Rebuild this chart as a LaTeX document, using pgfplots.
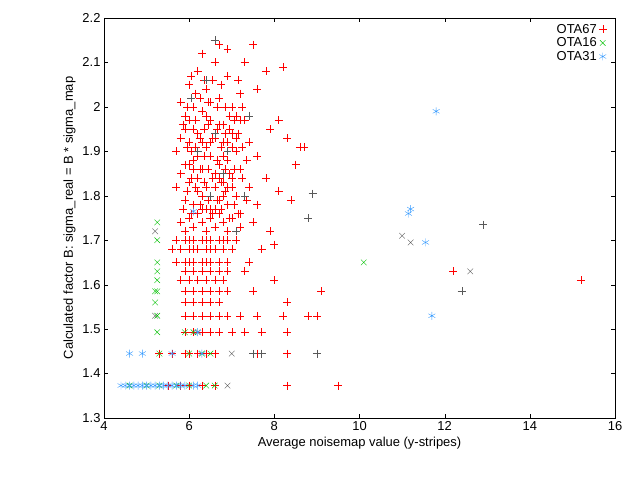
\documentclass[border=0pt]{standalone}
\usepackage{pgfplots}
\pgfplotsset{compat=1.18}
\usepackage{fontspec}
\setmainfont{Liberation Sans}
\definecolor{gblue}{RGB}{51,153,255}
\definecolor{ggreen}{RGB}{0,192,0}
\begin{document}
\begin{tikzpicture}[x=1bp,y=1bp]
\path[use as bounding box] (0,0) rectangle (640,480);
\begin{axis}[at={(104bp,62bp)},anchor=south west,scale only axis,width=511bp,height=400bp,
xmin=4,xmax=16,ymin=1.3,ymax=2.2,xtick={4,6,...,16},ytick={1.3,1.4,...,2.2},
yticklabel style={/pgf/number format/fixed,/pgf/number format/precision=1},
/pgf/number format/assume math mode=true,
tick align=inside,tick style={black},
ticklabel style={font=\fontsize{13}{15}\selectfont},
label style={font=\fontsize{13}{15}\selectfont},
xlabel={Average noisemap value (y-stripes)},
ylabel={Calculated factor B: sigma\_real = B * sigma\_map},
legend style={draw=none,fill=none,at={(0.99,0.995)},anchor=north east,font=\fontsize{13}{15}\selectfont,row sep=-1pt},
legend plot pos=right,legend cell align=right,
only marks,mark size=4pt]
\addplot[red,mark=+,forget plot] coordinates {
(5.8,2.01)(5.9,1.98)(6.0,2.05)(6.1,1.95)(6.2,2.08)(6.3,1.99)(6.4,2.04)(6.5,1.97)(6.6,2.1)(6.7,2.02)(6.8,1.96)(6.9,2.07)(7.0,2.0)(7.1,1.98)(7.2,2.03)(7.3,1.97)(7.5,2.14)(7.6,2.04)(6.3,2.12)(6.7,2.14)(6.9,2.13)(7.3,2.1)(7.8,2.08)(8.1,1.97)(8.2,2.09)
(5.7,1.9)(5.8,1.93)(5.9,1.87)(6.0,1.92)(6.1,1.88)(6.2,1.94)(6.3,1.86)(6.4,1.91)(6.5,1.89)(6.6,1.93)(6.7,1.87)(6.8,1.92)(6.9,1.88)(7.0,1.94)(7.1,1.9)(7.2,1.86)(7.4,1.92)(7.6,1.89)(7.9,1.95)(8.3,1.93)(8.6,1.91)(8.7,1.91)(8.5,1.87)
(5.7,1.82)(5.8,1.85)(5.9,1.79)(6.0,1.83)(6.1,1.78)(6.2,1.84)(6.3,1.8)(6.4,1.82)(6.5,1.77)(6.6,1.85)(6.7,1.79)(6.8,1.83)(6.9,1.78)(7.0,1.84)(7.1,1.8)(7.2,1.76)(7.4,1.82)(7.6,1.78)(7.8,1.84)(8.1,1.81)(8.4,1.79)
(5.8,1.74)(5.9,1.72)(6.0,1.75)(6.1,1.73)(6.2,1.76)(6.3,1.74)(6.4,1.72)(6.5,1.75)(6.6,1.73)(6.7,1.76)(6.8,1.74)(6.9,1.72)(7.0,1.75)(7.2,1.73)(7.5,1.74)(7.9,1.72)(8.0,1.69)
(5.95,2.0)(6.05,1.9)(6.15,1.82)(6.25,2.02)(6.35,1.89)(6.45,1.96)(6.55,1.84)(6.65,2.0)(6.75,1.91)(6.85,1.81)(6.95,1.95)(7.05,1.86)(6.15,1.97)(6.25,1.78)(6.45,1.86)(6.55,2.06)(6.75,1.83)(6.85,2.0)(7.15,1.94)(7.25,1.84)(6.05,1.76)(6.35,1.95)(6.65,1.79)(6.95,1.85)
(5.85,1.96)(5.95,1.81)(6.05,2.07)(6.15,1.91)(6.25,1.86)(6.35,2.06)(6.45,1.79)(6.55,1.93)(6.65,1.88)(6.75,2.05)(6.85,1.86)(6.95,1.98)(7.05,1.78)(7.15,2.06)(7.25,1.91)(7.35,1.88)(5.85,1.77)(5.95,1.91)(6.05,1.84)(6.15,2.03)(6.25,1.93)(6.35,1.83)(6.45,2.01)(6.55,1.76)(6.65,1.95)(6.75,1.77)(6.85,1.94)(6.95,1.75)(7.05,1.97)(7.15,1.76)(7.25,2.0)(7.35,1.79)
(5.9,1.95)(6.0,1.87)(6.1,2.0)(6.2,1.81)(6.3,1.92)(6.4,1.77)(6.5,2.01)(6.6,1.82)(6.7,1.96)(6.8,1.8)(6.9,1.92)(7.0,1.82)(7.1,1.93)(6.0,1.97)(6.2,1.89)(6.4,1.98)(6.6,1.77)(6.8,1.89)(7.0,1.91)(7.2,1.97)(6.1,1.86)(6.3,1.77)(6.5,1.92)(6.7,1.84)(6.9,1.82)
(5.7,1.70)(5.9,1.70)(6.1,1.70)(6.3,1.70)(6.5,1.70)(6.7,1.70)(6.9,1.70)(7.1,1.70)(6.0,1.70)(6.4,1.70)(6.8,1.70)
(5.6,1.68)(5.8,1.68)(6.0,1.68)(6.2,1.68)(6.4,1.68)(6.6,1.68)(6.8,1.68)(7.0,1.68)(7.7,1.68)(6.1,1.68)(6.5,1.68)
(5.7,1.65)(5.9,1.65)(6.1,1.65)(6.3,1.65)(6.5,1.65)(6.7,1.65)(6.9,1.65)(7.4,1.65)(6.0,1.65)(6.4,1.65)
(5.9,1.63)(6.1,1.63)(6.3,1.63)(6.5,1.63)(6.7,1.63)(6.9,1.63)(7.3,1.63)(12.2,1.63)
(5.8,1.61)(6.0,1.61)(6.2,1.61)(6.4,1.61)(6.6,1.61)(6.8,1.61)(8.0,1.61)(15.2,1.61)
(5.9,1.585)(6.1,1.585)(6.3,1.585)(6.5,1.585)(6.7,1.585)(6.9,1.585)(7.5,1.585)(9.1,1.585)
(5.9,1.56)(6.1,1.56)(6.3,1.56)(6.5,1.56)(6.7,1.56)(8.3,1.56)
(5.9,1.53)(6.1,1.53)(6.3,1.53)(6.5,1.53)(6.7,1.53)(6.9,1.53)(7.2,1.53)(7.6,1.53)(8.2,1.53)(8.8,1.53)(9.0,1.53)
(5.9,1.493)(6.1,1.493)(6.3,1.493)(6.5,1.493)(6.7,1.493)(7.0,1.493)(7.3,1.493)(7.7,1.493)(8.3,1.493)
(5.3,1.445)(5.6,1.445)(5.9,1.445)(6.0,1.445)(6.2,1.445)(6.4,1.445)(6.6,1.445)(7.6,1.445)(8.3,1.445)
(5.5,1.373)(5.8,1.373)(6.0,1.373)(6.3,1.373)(6.6,1.373)(8.3,1.373)(9.5,1.373)
};
\addplot[gray!70!black,mark=+,forget plot] coordinates {(6.05,2.02)(6.6,1.94)(6.9,1.9)(7.3,1.8)(6.4,2.06)(12.9,1.735)(12.4,1.585)(8.9,1.805)(8.8,1.75)(9.0,1.445)(7.5,1.445)(7.7,1.445)(6.6,2.15)(7.4,1.98)(6.2,1.9)(6.8,1.85)(7.1,1.72)(6.5,1.8)};
\addplot[gray!70!black,mark=x,forget plot] coordinates {(11.0,1.71)(11.2,1.695)(12.6,1.63)(5.2,1.53)(5.2,1.72)(7.0,1.445)(6.9,1.373)(6.2,1.493)};
\addplot[red,mark=+] coordinates {(0,0)};
\addlegendentry{OTA67}
\addplot[ggreen,mark=x] coordinates {(5.25,1.493)(5.25,1.53)(5.2,1.56)(5.25,1.585)(5.2,1.585)(5.25,1.61)(5.25,1.63)(5.25,1.65)(5.25,1.70)(5.25,1.74)(5.3,1.445)(6.0,1.445)(6.3,1.445)(6.5,1.445)(5.9,1.493)(6.1,1.493)(4.6,1.373)(5.0,1.373)(5.3,1.373)(5.7,1.373)(6.0,1.373)(6.4,1.373)(6.6,1.373)(10.1,1.65)};
\addlegendentry{OTA16}
\addplot[gblue,mark=asterisk] coordinates {(4.4,1.373)(4.5,1.373)(4.6,1.373)(4.7,1.373)(4.8,1.373)(4.9,1.373)(5.0,1.373)(5.1,1.373)(5.2,1.373)(5.3,1.373)(5.4,1.373)(5.5,1.373)(5.6,1.373)(5.7,1.373)(5.8,1.373)(5.9,1.373)(6.1,1.373)(6.2,1.373)(4.6,1.445)(4.9,1.445)(5.6,1.445)(6.3,1.445)(6.2,1.493)(6.1,1.765)(11.15,1.76)(11.2,1.77)(11.55,1.695)(11.7,1.53)(11.8,1.99)};
\addlegendentry{OTA31}
\end{axis}
\end{tikzpicture}
\end{document}
